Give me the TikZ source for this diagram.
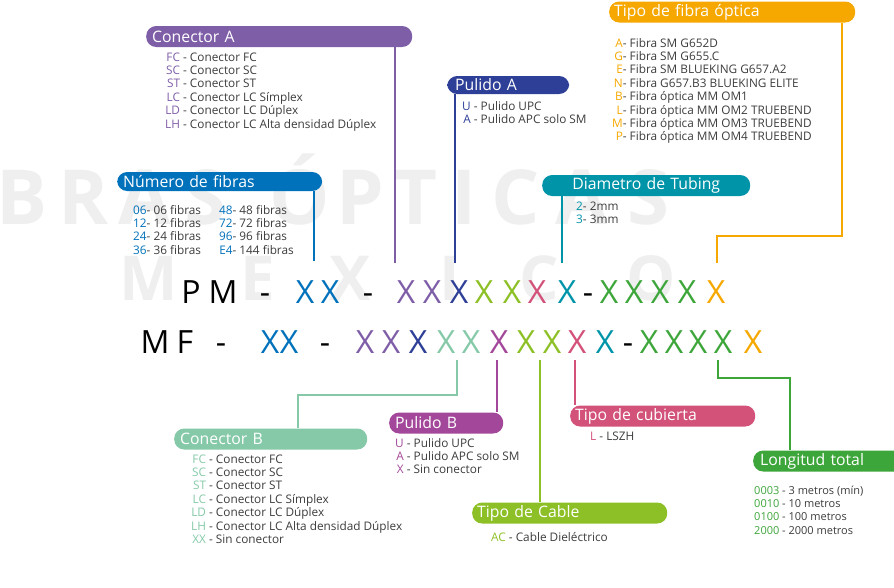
\documentclass[tikz,border=0pt]{standalone}
\usepackage{fontspec}
\setmainfont{Open Sans}
\usepackage{xcolor}
\usetikzlibrary{positioning}
\definecolor{cA}{RGB}{127,94,168}
\definecolor{pA}{RGB}{46,63,151}
\definecolor{nf}{RGB}{0,113,187}
\definecolor{dt}{RGB}{0,148,169}
\definecolor{tf}{RGB}{246,168,0}
\definecolor{cB}{RGB}{133,201,168}
\definecolor{pB}{RGB}{163,71,154}
\definecolor{tc}{RGB}{141,192,38}
\definecolor{cu}{RGB}{210,82,122}
\definecolor{lt}{RGB}{61,166,58}
\definecolor{tx}{RGB}{60,60,60}
\definecolor{wm}{RGB}{239,239,239}

\begin{document}
\begin{tikzpicture}[x=1pt, y=-1pt,
                hdr/.style={rounded corners=10pt, text=white, anchor=west, inner xsep=6pt, inner ysep=0pt,
                            minimum height=21pt, align=left, font=\fontsize{15.8}{18}\selectfont},
                lst/.style={anchor=north west, inner sep=0pt, text=tx, font=\fontsize{11.8}{13.4}\selectfont},
                big/.style={anchor=base, inner sep=0pt, font=\fontsize{32}{36}\selectfont},
                mrk/.style={anchor=base, inner sep=0pt, text=wm, font=\fontsize{76}{84}\bfseries},
                ln/.style={line width=2.2pt}]

            \useasboundingbox (0,0) rectangle (894,587);
            \clip (0,0) rectangle (894,587);

            % marca de agua
            \foreach \ch/\xx [count=\i] in {B/22, R/84, A/145, S/205, Ó/300, P/360, T/416, I/464, C/516, A/582, S/648}
                \node[mrk] (wa\i) at (\xx,224) {\ch};
            \foreach \ch/\xx [count=\i] in {M/149, E/258, X/350, I/450, C/539, O/651}
                \node[mrk, font=\fontsize{62}{70}\bfseries] (wb\i) at (\xx,300) {\ch};

            % codigos
            \foreach \ch/\xx/\cl [count=\i] in {P/191/black, M/223/black, -/265/black, X/305/nf, X/330/nf, -/368/black,
                    X/406/cA, X/432/cA, X/459/pA, X/484/tc, X/512/tc, X/537/cu, X/567/dt, -/588/black,
                    X/609/lt, X/634/lt, X/660/lt, X/687/lt, X/716/tf}
                \node[big, text=\cl] (pm\i) at (\xx,303) {\ch};
            \foreach \ch/\xx/\cl [count=\i] in {M/155/black, F/185/black, -/221/black, X/270/nf, X/289/nf, -/325/black,
                    X/365/cA, X/391/cA, X/418/pA, X/446/cB, X/471/cB, X/499/pB, X/526/tc, X/552/tc, X/577/cu, X/605/dt,
                    -/628/black, X/649/lt, X/674/lt, X/698/lt, X/723/lt, X/753/tf}
                \node[big, text=\cl] (mf\i) at (\xx,353) {\ch};

            % conector A
            \node[hdr, fill=cA, text width=254pt] (hA) at (146,36.5) {Conector A};
            \node[lst] (lA) at (165,51.6) {\begin{tabular}{@{}r@{\ -\ }l@{}}
                \textcolor{cA}{FC} & Conector FC\\ \textcolor{cA}{SC} & Conector SC\\
                \textcolor{cA}{ST} & Conector ST\\ \textcolor{cA}{LC} & Conector LC Símplex\\
                \textcolor{cA}{LD} & Conector LC Dúplex\\ \textcolor{cA}{LH} & Conector LC Alta densidad Dúplex
                \end{tabular}};
            \coordinate (eA) at (395,263);
            \draw[ln, cA] (eA |- hA.south) -- (eA);

            % pulido A
            \node[hdr, fill=pA, text width=106pt, inner xsep=8pt, minimum height=18pt] (hPA) at (447,85) {Pulido A};
            \node[lst] (lPA) at (462,100.6) {\begin{tabular}{@{}r@{\ -\ }l@{}}
                \textcolor{pA}{U} & Pulido UPC\\ \textcolor{pA}{A} & Pulido APC solo SM
                \end{tabular}};
            \draw[ln, pA] (hPA.south -| 455,0) -- (455,263);

            % numero de fibras
            \node[hdr, fill=nf, text width=193pt, minimum height=19pt] (hNF) at (117,181.5) {Número de fibras};
            \node[lst] (lNF) at (133,204.6) {\begin{tabular}{@{}r@{-\ }l@{\hspace{18pt}}r@{-\ }l@{}}
                \textcolor{nf}{06} & 06 fibras & \textcolor{nf}{48} & 48 fibras\\
                \textcolor{nf}{12} & 12 fibras & \textcolor{nf}{72} & 72 fibras\\
                \textcolor{nf}{24} & 24 fibras & \textcolor{nf}{96} & 96 fibras\\
                \textcolor{nf}{36} & 36 fibras & \textcolor{nf}{E4} & 144 fibras
                \end{tabular}};
            \draw[ln, nf] (hNF.south -| 314,0) -- (314,261);

            % diametro de tubing
            \node[hdr, fill=dt, text width=196pt, align=center] (hDT) at (542,185.5) {Diametro de Tubing};
            \node[lst] (lDT) at (576,200.6) {\begin{tabular}{@{}r@{-\ }l@{}}
                \textcolor{dt}{2} & 2mm\\ \textcolor{dt}{3} & 3mm
                \end{tabular}};
            \draw[ln, dt] (hDT.south -| 562,0) -- (562,263);

            % tipo de fibra optica
            \node[hdr, fill=tf, text width=236pt, inner xsep=5pt] (hTF) at (609,12) {Tipo de fibra óptica};
            \node[lst] (lTF) at (612,37.6) {\begin{tabular}{@{}r@{-\ }l@{}}
                \textcolor{tf}{A} & Fibra SM G652D\\ \textcolor{tf}{G} & Fibra SM G655.C\\
                \textcolor{tf}{E} & Fibra SM BLUEKING G657.A2\\ \textcolor{tf}{N} & Fibra G657.B3 BLUEKING ELITE\\
                \textcolor{tf}{B} & Fibra óptica MM OM1\\ \textcolor{tf}{L} & Fibra óptica MM OM2 TRUEBEND\\
                \textcolor{tf}{M} & Fibra óptica MM OM3 TRUEBEND\\ \textcolor{tf}{P} & Fibra óptica MM OM4 TRUEBEND
                \end{tabular}};
            \draw[ln, tf] (hTF.south -| 842,0) -- (842,236) -- (717,236) -- (717,263);

            % conector B
            \node[hdr, fill=cB, text width=181pt] (hCB) at (174,439) {Conector B};
            \node[lst] (lCB) at (191,453.6) {\begin{tabular}{@{}r@{\ -\ }l@{}}
                \textcolor{cB}{FC} & Conector FC\\ \textcolor{cB}{SC} & Conector SC\\
                \textcolor{cB}{ST} & Conector ST\\ \textcolor{cB}{LC} & Conector LC Símplex\\
                \textcolor{cB}{LD} & Conector LC Dúplex\\ \textcolor{cB}{LH} & Conector LC Alta densidad Dúplex\\
                \textcolor{cB}{XX} & Sin conector
                \end{tabular}};
            \draw[ln, cB] (457,360) -- (457,395) -- (298,395) -- (hCB.north -| 298,0);

            % pulido B
            \node[hdr, fill=pB, text width=102pt] (hPB) at (389,423) {Pulido B};
            \node[lst] (lPB) at (395,437.6) {\begin{tabular}{@{}r@{\ -\ }l@{}}
                \textcolor{pB}{U} & Pulido UPC\\ \textcolor{pB}{A} & Pulido APC solo SM\\
                \textcolor{pB}{X} & Sin conector
                \end{tabular}};
            \draw[ln, pB] (497,360) -- (hPB.north -| 497,0);

            % tipo de cable
            \node[hdr, fill=tc, text width=185pt, inner xsep=5pt] (hTC) at (472,513) {Tipo de Cable};
            \node[lst] (lTC) at (491,531.6) {\begin{tabular}{@{}r@{\ -\ }l@{}}
                \textcolor{tc}{AC} & Cable Dieléctrico
                \end{tabular}};
            \draw[ln, tc] (540,360) -- (hTC.north -| 540,0);

            % tipo de cubierta
            \node[hdr, fill=cu, text width=175pt, inner xsep=5pt] (hCU) at (570,416) {Tipo de cubierta};
            \node[lst] (lCU) at (590,430.6) {\begin{tabular}{@{}r@{\ -\ }l@{}}
                \textcolor{cu}{L} & LSZH
                \end{tabular}};
            \draw[ln, cu] (575,360) -- (hCU.north -| 575,0);

            % longitud total
            \node[hdr, fill=lt, text width=150pt, inner xsep=7pt] (hLT) at (753,461) {Longitud total};
            \node[lst, font=\fontsize{11}{13.4}\selectfont] (lLT) at (754,484.6) {\begin{tabular}{@{}l@{\ -\ }l@{}}
                \textcolor{lt}{0003} & 3 metros (mín)\\ \textcolor{lt}{0010} & 10 metros\\
                \textcolor{lt}{0100} & 100 metros\\ \textcolor{lt}{2000} & 2000 metros
                \end{tabular}};
            \draw[ln, lt] (718,360) -- (718,378) -- (790,378) -- (hLT.north -| 790,0);

        \end{tikzpicture}
\end{document}
